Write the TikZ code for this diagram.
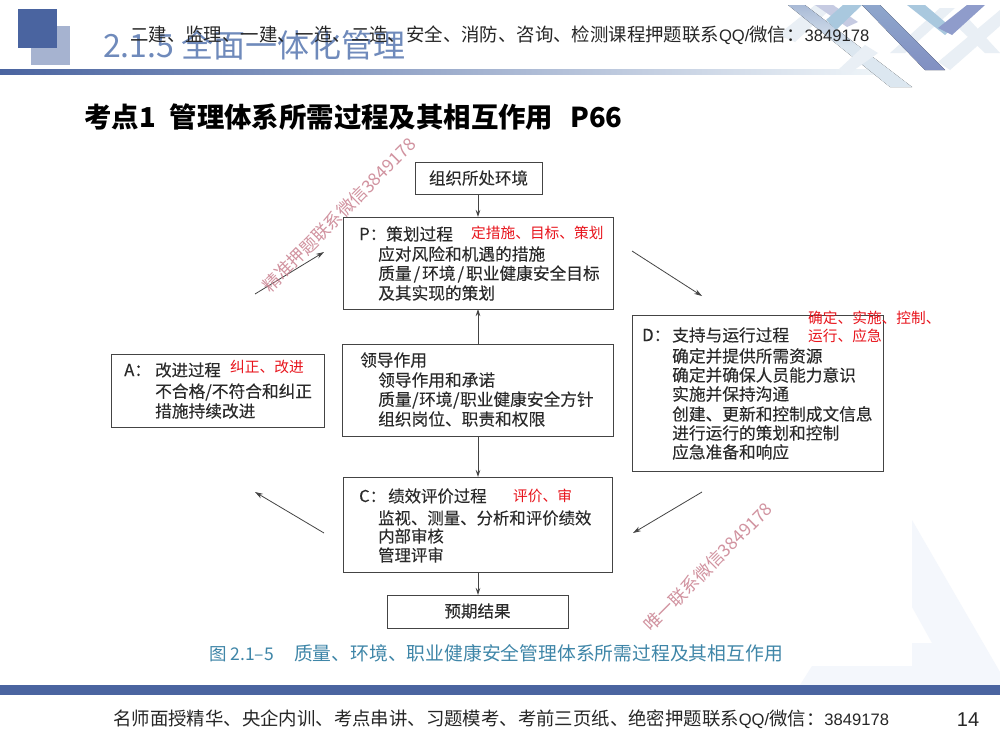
\documentclass[tikz,border=0pt]{standalone}
\usepackage{fontspec}
\setmainfont{Noto Sans CJK SC}
\newfontfamily\bk[FakeBold=0.12]{Noto Sans CJK SC}
\newfontfamily\latinhdr{Liberation Sans}
\usetikzlibrary{arrows.meta}
\definecolor{hdark}{HTML}{4A64A0}
\definecolor{hlight}{HTML}{A6B3D0}
\definecolor{barmid}{HTML}{9FBBD6}
\definecolor{barend}{HTML}{EEF4F8}
\definecolor{titleblue}{HTML}{6F8ABB}
\definecolor{capblue}{HTML}{3F86A8}
\definecolor{redlabel}{HTML}{E8141C}
\definecolor{wm}{HTML}{C9808F}
\definecolor{boxline}{HTML}{444444}
\definecolor{booktext}{HTML}{2A2A2A}
\definecolor{pale}{HTML}{F4F7FC}
\definecolor{latA}{HTML}{DCE7F0}
\definecolor{latB}{HTML}{E9EFF5}
\definecolor{latC}{HTML}{8EA6CC}
\definecolor{latD}{HTML}{8290C2}
\definecolor{latE}{HTML}{C6CBE2}
\definecolor{latF}{HTML}{A9C8DE}
\definecolor{latG}{HTML}{8F9CCB}
\definecolor{latH}{HTML}{A9BAD6}
\newcommand{\slh}{\kern2pt/\kern2pt}
\newcommand{\sln}{\kern0.5pt/\kern0.5pt}
\newcommand{\lat}[1]{{\latinhdr\fontsize{16.6}{16.6}\selectfont #1}}
\tikzset{
  x=1pt,y=-1pt,
  pbox/.style={draw=boxline,line width=1pt,fill=white},
  ln/.style={anchor=west,inner sep=0pt,text=booktext,font=\bk\fontsize{16.7}{16.7}\selectfont},
  lnc/.style={anchor=west,inner sep=0pt,text=booktext,font=\bk\fontsize{16.4}{16.4}\selectfont},
  red/.style={anchor=west,inner sep=0pt,text=redlabel,font=\fontsize{14.7}{14.7}\selectfont},
  flow/.style={draw=boxline,line width=0.8pt,-{Stealth[length=7pt,width=4.5pt]}},
  diag/.style={draw=boxline,line width=0.8pt,-{Stealth[length=8pt,width=5pt]}},
  wmark/.style={text=wm,inner sep=0pt,rotate=45,opacity=.85,font=\fontsize{17.5}{17.5}\selectfont},
  ctr/.style={inner sep=0pt,text=booktext,font=\bk\fontsize{16.5}{16.5}\selectfont}
}
\begin{document}
\begin{tikzpicture}
\useasboundingbox (0,0) rectangle (1000,750);
\fill[white] (0,0) rectangle (1000,750);
% background bottom right
\fill[pale] (912,520) -- (1000,672) -- (1000,685) -- (800,685) -- (812,666) -- (912,666) -- (912,643) -- (932,643) -- (912,607) -- cycle;
% header decoration
\fill[hlight] (31,26) rectangle (70,65);
\fill[hdark] (18,9) rectangle (57,48);
\fill[left color=hdark,middle color=barmid,right color=barend] (0,69) rectangle (875,74);
% lattice
\fill[latB] (835,5) -- (815,5) -- (778,35) -- (795,42) -- cycle;
\fill[top color=latH,bottom color=latA,middle color=latA] (788,5) -- (805,5) -- (912,87) -- (890,87) -- cycle;
\fill[latB] (878,53) -- (865,45) -- (838,70) -- (850,73) -- cycle;
\fill[latB] (940,8) -- (955,8) -- (905,53) -- (890,53) -- cycle;
\fill[latB] (1000,10) -- (1000,26) -- (950,70) -- (938,62) -- cycle;
\fill[latB] (950,20) -- (965,15) -- (1000,53) -- (985,53) -- cycle;
\fill[top color=latC,bottom color=latD] (862,5) -- (880,5) -- (945,70) -- (925,70) -- cycle;
\fill[latE] (815,5) -- (833,5) -- (858,22) -- (847,27) -- cycle;
\fill[latF] (862,5) -- (843,5) -- (826,20) -- (836,30) -- cycle;
\fill[latF] (907,5) -- (925,5) -- (952,28) -- (945,35) -- cycle;
\fill[latG] (985,5) -- (967,5) -- (938,28) -- (952,35) -- cycle;
% header text
\node[anchor=west,inner sep=0pt,text=titleblue,font=\fontsize{32}{32}\selectfont] (title) at (103,45) {2.1.5 全面一体化管理};
\node[anchor=west,inner sep=0pt,text=black!85,font=\fontsize{18.4}{18.4}\selectfont] (hdr) at (130,35) {二建、监理、一建、一造、二造、安全、消防、咨询、检测课程押题联系\lat{QQ/}微信：\lat{3849178}};
\node[anchor=west,inner sep=0pt,text=black,font=\fontsize{27.4}{27.4}\selectfont\bfseries] (head) at (84,117) {考点1\kern14pt 管理体系所需过程及其相互作用\kern17pt P66};
% boxes
\path[pbox] (415,162) rectangle (542,194);
\node[ctr] (env) at (478.5,178) {组织所处环境};
\coordinate (envb) at (478,194);
\path[pbox] (343,217) rectangle (613,309);
\coordinate (pt) at (478,217); \coordinate (pb) at (478,309);
\node[ln] (p0) at (359,234) {P：};
\node[ln] (p1) at (386,234) {策划过程};
\node[red] (p2) at (471,233) {定措施、目标、策划};
\node[ln] (p3) at (378,254) {应对风险和机遇的措施};
\node[ln] (p4) at (378,274) {质量\slh 环境\slh 职业健康安全目标};
\node[ln] (p5) at (378,293) {及其实现的策划};
\path[pbox] (342,344) rectangle (613,436);
\coordinate (lt) at (478,344); \coordinate (lb) at (478,436);
\node[ln] (l0) at (360,360) {领导作用};
\node[ln] (l1) at (378,380) {领导作用和承诺};
\node[ln] (l2) at (378,400) {质量\sln 环境\sln 职业健康安全方针};
\node[ln] (l3) at (378,419) {组织岗位、职责和权限};
\path[pbox] (111,354) rectangle (324,427);
\node[ln] (a0) at (124,370) {A：};
\node[lnc] (a1) at (155,370) {改进过程};
\node[red] (a2) at (230,367) {纠正、改进};
\node[ln] (a3) at (155,392) {不合格/不符合和纠正};
\node[ln] (a4) at (155,411) {措施持续改进};
\path[pbox] (632,315) rectangle (883,471);
\node[ln] (d0) at (642,335) {D：};
\node[ln] (d1) at (672,335) {支持与运行过程};
\node[ln] (d2) at (672,356) {确定并提供所需资源};
\node[ln] (d3) at (672,375) {确定并确保人员能力意识};
\node[ln] (d4) at (672,394) {实施并保持沟通};
\node[ln] (d5) at (672,414) {创建、更新和控制成文信息};
\node[ln] (d6) at (672,433) {进行运行的策划和控制};
\node[ln] (d7) at (672,452) {应急准备和响应};
\node[red] (d8) at (808,318) {确定、实施、控制、};
\node[red] (d9) at (808,336) {运行、应急};
\path[pbox] (343,477) rectangle (612,572);
\coordinate (ct) at (478,477); \coordinate (cb) at (478,572);
\node[lnc] (c0) at (359,496) {C：};
\node[lnc] (c1) at (388,496) {绩效评价过程};
\node[red] (c2) at (513,496) {评价、审};
\node[lnc] (c3) at (378,518) {监视、测量、分析和评价绩效};
\node[lnc] (c4) at (378,536) {内部审核};
\node[lnc] (c5) at (378,555) {管理评审};
\path[pbox] (387,595) rectangle (568,628);
\coordinate (rt) at (478,595);
\node[ctr] (res) at (477.5,611) {预期结果};
% connectors
\draw[flow] (envb) -- (pt);
\draw[flow] (lt) -- (pb);
\draw[flow] (lb) -- (ct);
\draw[flow] (cb) -- (rt);
\coordinate (a1s) at (255,294); \coordinate (a1e) at (324,252);
\coordinate (a2s) at (632,251); \coordinate (a2e) at (702,296);
\coordinate (a3s) at (702,492); \coordinate (a3e) at (633,533);
\coordinate (a4s) at (324,533); \coordinate (a4e) at (255,492);
\draw[diag] (a1s) -- (a1e);
\draw[diag] (a2s) -- (a2e);
\draw[diag] (a3s) -- (a3e);
\draw[diag] (a4s) -- (a4e);
% watermarks
\node[wmark] (w1) at (339,215) {精准押题联系微信3849178};
\node[wmark] (w2) at (708,567) {唯一联系微信3849178};
% caption
\node[anchor=west,inner sep=0pt,text=capblue,font=\fontsize{17.5}{17.5}\selectfont] (cap) at (209,653) {图 2.1–5\kern20pt{\fontsize{18.8}{18.8}\selectfont 质量、环境、职业健康安全管理体系所需过程及其相互作用}};
% footer
\fill[hdark] (0,685) rectangle (1000,695);
\node[anchor=west,inner sep=0pt,text=black!85,font=\fontsize{18.4}{18.4}\selectfont] (foot) at (113,719) {名师面授精华、央企内训、考点串讲、习题模考、考前三页纸、绝密押题联系\lat{QQ/}微信：\lat{3849178}};
\node[inner sep=0pt,text=black!85,font=\latinhdr\fontsize{20}{20}\selectfont] (pg) at (968,720) {14};
\end{tikzpicture}
\end{document}
